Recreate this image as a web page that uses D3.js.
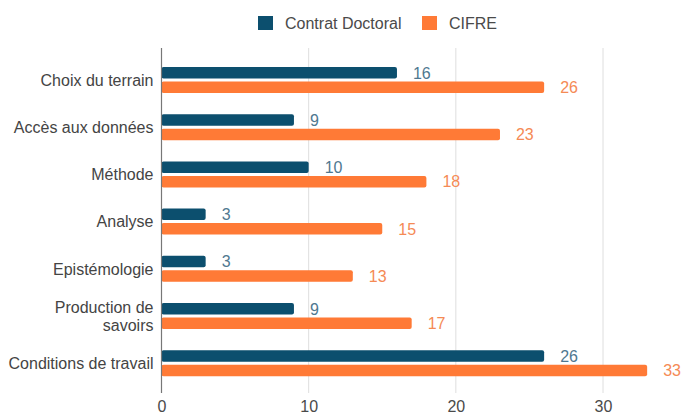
<!DOCTYPE html>
<html>
<head>
<meta charset="utf-8">
<script src="https://cdn.jsdelivr.net/npm/d3@7"></script>
<style>
  body { margin: 0; background: #fff; }
  text { font-family: "Liberation Sans", Arial, sans-serif; }
</style>
</head>
<body>
<div id="chart"></div>
<script>
const categories = ["Choix du terrain", "Accès aux données", "Méthode", "Analyse", "Epistémologie", "Production de savoirs", "Conditions de travail"];
const seriesNames = ["Contrat Doctoral", "CIFRE"];
const contratDoctoral = [16, 9, 10, 3, 3, 9, 26];
const cifre = [26, 23, 18, 15, 13, 17, 33];
const tickValues = [0, 10, 20, 30];
const colors = ["#0c4f6e", "#ff7a36"];
const labelColors = ["#4f7890", "#f58a55"];

const width = 685, height = 418;
const svg = d3.select("#chart").append("svg")
    .attr("width", width)
    .attr("height", height);

const x = d3.scaleLinear().domain([0, 30]).range([161.5, 603]);
const y = d3.scaleBand().domain(categories).range([56.4, 386.8]);

// grille verticale
svg.append("g")
    .selectAll("line")
    .data(tickValues.slice(1))
    .enter().append("line")
    .attr("x1", d => x(d)).attr("x2", d => x(d))
    .attr("y1", 48).attr("y2", 393)
    .attr("stroke", "#dedede").attr("stroke-width", 1);

// axe du bas (labels seulement)
const xAxis = svg.append("g")
    .attr("transform", "translate(0,393)")
    .call(d3.axisBottom(x).tickValues(tickValues).tickSize(0).tickPadding(8));
xAxis.select(".domain").remove();
xAxis.selectAll("text")
    .style("font-family", "'Liberation Sans', Arial, sans-serif")
    .style("font-size", "16px")
    .attr("fill", "#4a4a4a");

const data = categories.map((c, i) => ({cat: c, values: [contratDoctoral[i], cifre[i]]}));

const barH = 11.5, gap = 3;
const groups = svg.selectAll("g.cat")
    .data(data)
    .enter().append("g")
    .attr("class", "cat")
    .attr("transform", d => "translate(0," + (y(d.cat) + y.bandwidth() / 2) + ")");

groups.selectAll("rect")
    .data(d => d.values)
    .enter().append("rect")
    .attr("x", x(0))
    .attr("y", (d, i) => i === 0 ? -barH - gap / 2 : gap / 2)
    .attr("width", d => x(d) - x(0))
    .attr("height", barH)
    .attr("rx", 2)
    .attr("fill", (d, i) => colors[i]);

groups.selectAll("text.val")
    .data(d => d.values)
    .enter().append("text")
    .attr("class", "val")
    .attr("x", d => x(d) + 16)
    .attr("y", (d, i) => i === 0 ? -barH / 2 - gap / 2 : barH / 2 + gap / 2)
    .attr("dy", "0.36em")
    .style("font-size", "16px")
    .attr("fill", (d, i) => labelColors[i])
    .text(d => d);

// libellés des catégories
groups.append("text")
    .attr("x", x(0) - 8)
    .attr("text-anchor", "end")
    .style("font-size", "16px")
    .attr("fill", "#444")
    .each(function(d) {
        const t = d3.select(this);
        if (d.cat === "Production de savoirs") {
            t.append("tspan").attr("x", x(0) - 8).attr("y", -3).text("Production de");
            t.append("tspan").attr("x", x(0) - 8).attr("y", 15).text("savoirs");
        } else {
            t.attr("y", 0).attr("dy", "0.36em").text(d.cat);
        }
    });

// axe vertical
svg.append("line")
    .attr("x1", x(0)).attr("x2", x(0))
    .attr("y1", 48).attr("y2", 393)
    .attr("stroke", "#777").attr("stroke-width", 1.2);

// légende
const legend = svg.append("g").attr("transform", "translate(258,16)");
const legendX = [0, 164];
seriesNames.forEach((name, i) => {
    legend.append("rect")
        .attr("x", legendX[i]).attr("y", 0)
        .attr("width", 15).attr("height", 14)
        .attr("fill", colors[i]);
    legend.append("text")
        .attr("x", legendX[i] + 27).attr("y", 7)
        .attr("dy", "0.36em")
        .style("font-size", "16px")
        .attr("fill", "#4a4a4a")
        .text(name);
});
</script>
</body>
</html>
